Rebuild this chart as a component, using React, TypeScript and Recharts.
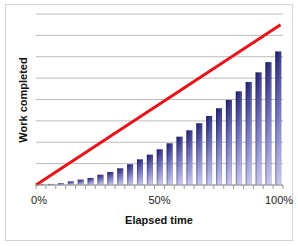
import { ComposedChart, Bar, Line, XAxis, YAxis, CartesianGrid } from 'recharts'

// bar categories (25 equal slices of elapsed time)
const steps = [1, 2, 3, 4, 5, 6, 7, 8, 9, 10, 11, 12, 13, 14, 15, 16, 17, 18, 19, 20, 21, 22, 23, 24, 25]
const workDone = [
  0.02, 0.05, 0.08, 0.17, 0.25, 0.33, 0.48, 0.61, 0.78, 0.97, 1.2, 1.42, 1.67,
  1.95, 2.26, 2.56, 2.89, 3.23, 3.59, 3.98, 4.38, 4.82, 5.27, 5.75, 6.25,
]

// straight plan line
const planElapsed = [0, 99]
const planWork = [0, 7.5]

// x axis: tick marks between bars, labels at 0 / 50 / 100
const tickMarks = [0, 4, 8, 12, 16, 20, 24, 28, 32, 36, 40, 44, 48, 52, 56, 60, 64, 68, 72, 76, 80, 84, 88, 92, 96, 100]
const labelAt = [0, 50, 100]
const tickLabels = ['0%', '50%', '100%']
const gridLevels = [0, 1, 2, 3, 4, 5, 6, 7, 8]

const barData = steps.map((s, i) => ({ step: s, work: workDone[i] }))
const lineData = planElapsed.map((t, i) => ({ t, w: planWork[i] }))

const FONT = '"Liberation Sans", Arial, sans-serif'

interface TickProps {
  x?: number
  y?: number
  payload?: { value: number }
}

function ElapsedTick({ x = 0, y = 0, payload }: TickProps) {
  const v = payload?.value ?? 0
  const li = labelAt.indexOf(v)
  const isMark = tickMarks.includes(v)
  const dx = v === 0 ? 3 : v === 100 ? -4 : 0
  return (
    <g>
      {isMark && <line x1={x} y1={y} x2={x} y2={y + 4} stroke="#9a9a9a" strokeWidth={1} />}
      {li >= 0 && (
        <text x={x + dx} y={y + 19} textAnchor="middle" fontSize={11} fontFamily={FONT} fill="#222">
          {tickLabels[li]}
        </text>
      )}
    </g>
  )
}

interface BarShapeProps {
  x?: number
  y?: number
  width?: number
  height?: number
}

function GradientBar({ x = 0, y = 0, width = 0, height = 0 }: BarShapeProps) {
  if (height <= 0) return null
  return (
    <g>
      <rect x={x} y={y} width={width} height={height} fill="url(#barV)" />
      <rect x={x} y={y} width={width} height={height} fill="url(#barH)" />
    </g>
  )
}

export default function App() {
  return (
    <div style={{ position: 'fixed', left: 0, top: 0, width: 298, height: 246, background: '#fff' }}>
      <div
        style={{
          position: 'absolute', left: 5, top: 4, width: 288, height: 237,
          border: '1px solid #d3d3d3', boxSizing: 'border-box',
        }}
      />
      <ComposedChart
        width={298}
        height={246}
        data={barData}
        margin={{ top: 14, right: 15, bottom: 31, left: 36 }}
        barCategoryGap="22%"
        style={{ position: 'absolute', left: 0, top: 0 }}
      >
        <defs>
          <linearGradient id="barV" x1="0" y1="0" x2="0" y2="1">
            <stop offset="0%" stopColor="#28287a" />
            <stop offset="45%" stopColor="#7272be" />
            <stop offset="100%" stopColor="#cacaf3" />
          </linearGradient>
          <linearGradient id="barH" x1="0" y1="0" x2="1" y2="0">
            <stop offset="0%" stopColor="#0a0a3c" stopOpacity={0.4} />
            <stop offset="35%" stopColor="#0a0a3c" stopOpacity={0} />
            <stop offset="80%" stopColor="#ffffff" stopOpacity={0.12} />
            <stop offset="100%" stopColor="#0a0a3c" stopOpacity={0.25} />
          </linearGradient>
        </defs>

        <CartesianGrid xAxisId="num" vertical={false} stroke="#bcbcbc" />

        <XAxis
          xAxisId="num"
          dataKey="t"
          type="number"
          domain={[0, 100]}
          ticks={[...tickMarks, 50]}
          interval={0}
          height={30}
          tickLine={false}
          tickSize={0}
          tickMargin={0}
          axisLine={{ stroke: '#9a9a9a' }}
          tick={<ElapsedTick />}
        />
        <XAxis xAxisId="cat" dataKey="step" type="category" height={0} hide />
        <YAxis domain={[0, 8]} ticks={gridLevels} interval={0} hide />

        <Bar xAxisId="cat" dataKey="work" shape={<GradientBar />} isAnimationActive={false} />
        <Line
          xAxisId="num"
          data={lineData}
          dataKey="w"
          type="linear"
          stroke="#e8131a"
          strokeWidth={3}
          dot={false}
          isAnimationActive={false}
        />

        <text
          x={0}
          y={0}
          transform="translate(27 100) rotate(-90)"
          textAnchor="middle"
          fontSize={11}
          fontWeight="bold"
          fontFamily={FONT}
          fill="#111"
        >
          Work completed
        </text>
        <text x={159} y={224} textAnchor="middle" fontSize={11} fontWeight="bold" fontFamily={FONT} fill="#111">
          Elapsed time
        </text>
      </ComposedChart>
    </div>
  )
}
